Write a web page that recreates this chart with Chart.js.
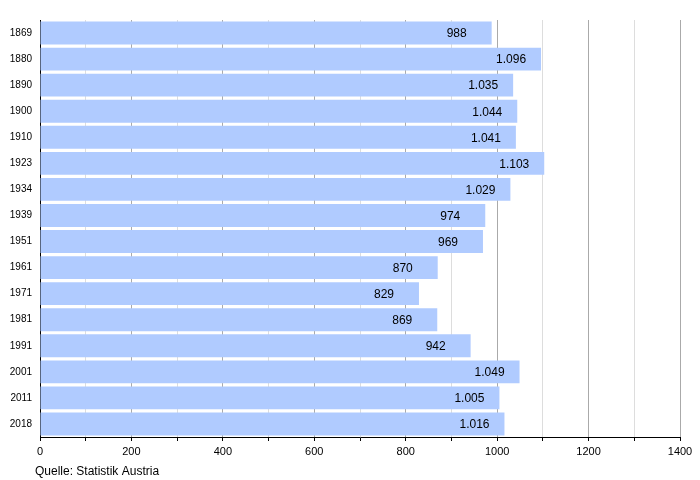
<!DOCTYPE html>
<html><head><meta charset="utf-8">
<script src="https://cdn.jsdelivr.net/npm/chart.js@4"></script>
<style>html,body{margin:0;padding:0;background:#fff}#wrap{width:700px;height:480px}</style>
</head><body><div id="wrap"><canvas id="c" width="700" height="480"></canvas></div>
<script>
const years = ['1869','1880','1890','1900','1910','1923','1934','1939','1951','1961','1971','1981','1991','2001','2011','2018'];
const population = [988,1096,1035,1044,1041,1103,1029,974,969,870,829,869,942,1049,1005,1016];
const valueLabels = ['988','1.096','1.035','1.044','1.041','1.103','1.029','974','969','870','829','869','942','1.049','1.005','1.016'];
const sourceText = 'Quelle: Statistik Austria';

const FONT = 'Liberation Sans, Arial, sans-serif';

const labelPlugin = {
  id: 'labels',
  afterDatasetsDraw(chart) {
    const ctx = chart.ctx;
    const meta = chart.getDatasetMeta(0);
    ctx.save();
    ctx.font = '12px ' + FONT;
    ctx.fillStyle = '#000';
    ctx.textAlign = 'left';
    ctx.textBaseline = 'middle';
    meta.data.forEach((bar, i) => {
      ctx.fillText(valueLabels[i], bar.x - 45, bar.y + 1);
    });
    ctx.font = '12px ' + FONT;
    ctx.textBaseline = 'alphabetic';
    ctx.fillText(sourceText, 35, 475);
    ctx.restore();
  }
};

new Chart(document.getElementById('c'), {
  type: 'bar',
  data: { labels: years, datasets: [{ data: population, backgroundColor: '#b0cbff', borderWidth: 0, barPercentage: 0.88, categoryPercentage: 1 }] },
  options: {
    indexAxis: 'y',
    responsive: false,
    animation: false,
    layout: { padding: { left: 0, right: 20, top: 20, bottom: 0 } },
    plugins: { legend: { display: false }, tooltip: { enabled: false } },
    scales: {
      x: {
        min: 0, max: 1400,
        afterFit(s) { s.height = 43; },
        ticks: { stepSize: 100, autoSkip: false, maxRotation: 0, color: '#000', font: { family: FONT, size: 11 }, padding: 4,
          callback: v => (v % 200 === 0 ? String(v) : '') },
        grid: {
          color: c => (c.tick && c.tick.value % 200 === 0 ? '#aaaaaa' : '#dddddd'),
          tickColor: '#000', tickLength: 4, lineWidth: 1
        },
        border: { color: '#000', width: 1 }
      },
      y: {
        afterFit(s) { s.width = 40; },
        ticks: { color: '#000', font: { family: FONT, size: 10 }, padding: 8 },
        grid: { display: false, drawTicks: false },
        border: { color: '#000', width: 1 }
      }
    }
  },
  plugins: [labelPlugin]
});
</script></body></html>
